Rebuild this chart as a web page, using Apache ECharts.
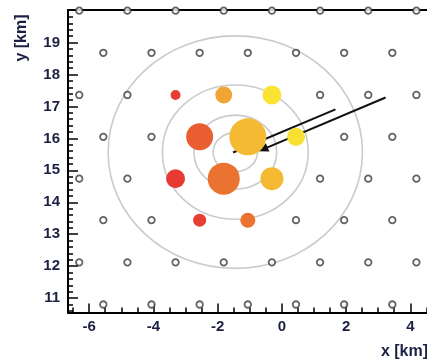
<!DOCTYPE html>
<html>
<head>
<meta charset="utf-8">
<script src="https://cdn.jsdelivr.net/npm/echarts@6/dist/echarts.min.js"></script>
<style>
html,body{margin:0;padding:0;background:#fff;}
#chart{width:427px;height:362px;}
</style>
</head>
<body>
<div id="chart"></div>
<script>
// ---- data ----
// detector grid rows (km)
const detRowY = [20.0, 18.68, 17.36, 16.05, 14.74, 13.44, 12.12, 10.8];
const detRowX = [
  [-6.31, -4.81, -3.31, -1.81, -0.31, 1.19, 2.69, 4.19],
  [-5.56, -4.06, -2.56, -1.06, 0.44, 1.94, 3.44],
  [-6.31, -4.81, 1.19, 2.69, 4.19],
  [-5.56, -4.06, 1.94, 3.44],
  [-6.31, -4.81, 1.19, 2.69, 4.19],
  [-5.56, -4.06, 0.44, 1.94, 3.44],
  [-6.31, -4.81, -3.31, -1.81, -0.31, 1.19, 2.69, 4.19],
  [-5.56, -4.06, -2.56, -1.06, 0.44, 1.94, 3.44]
];
// triggered stations
const stX      = [-3.31, -1.81, -0.31, -2.56, -1.06, 0.44, -3.31, -1.81, -0.31, -2.56, -1.06];
const stY      = [17.36, 17.36, 17.36, 16.05, 16.05, 16.05, 14.74, 14.74, 14.74, 13.44, 13.44];
const stSignal = [11, 32, 40, 81, 152, 36, 40, 114, 59, 19, 25];
const stTime   = [0.02, 0.64, 0.98, 0.25, 0.75, 0.95, 0.0, 0.38, 0.75, 0.04, 0.38];
// core-distance ellipses
const coreX = -1.45, coreY = 15.57;
const ringRx = [0.69, 1.29, 2.27, 3.96];
const ringRy = [0.61, 1.16, 2.10, 3.64];
// arrows
const arrowStart = [[-1.52, 15.56], [3.23, 17.28]];
const arrowEnd   = [[1.67, 16.91], [-0.73, 15.60]];
const arrowHead  = [0, 1];
// ticks
const xMajor = [-6, -4, -2, 0, 2, 4];
const yMajor = [11, 12, 13, 14, 15, 16, 17, 18, 19];
const xMinor = [-6.5, -5.5, -5, -4.5, -3.5, -3, -2.5, -1.5, -1, -0.5, 0.5, 1, 1.5, 2.5, 3, 3.5, 4.5];
const yMinor = [];
for (let i = 53; i <= 100; i++) { if (i % 5 !== 0) yMinor.push(i / 5); }

// ---- build ----
const detData = [];
detRowY.forEach((y, r) => detRowX[r].forEach(x => detData.push([x, y])));
const stData = stX.map((x, i) => [x, stY[i], stSignal[i], stTime[i]]);
const ringData = ringRx.map((rx, i) => [coreX, coreY, rx, ringRy[i]]);
const arrowData = arrowStart.map((s, i) => [s[0], s[1], arrowEnd[i][0], arrowEnd[i][1], arrowHead[i]]);

const XMIN = -6.66, XMAX = 4.52, YMIN = 10.55, YMAX = 20.02;
const labelColor = '#1b2142';
const grid = {left: 68, right: 0, top: 10, bottom: 49.5};
const font = 'Liberation Sans, Arial, sans-serif';

const chart = echarts.init(document.getElementById('chart'), null, {renderer: 'canvas'});
chart.setOption({
  animation: false,
  backgroundColor: '#fff',
  grid: [Object.assign({}, grid), Object.assign({}, grid)],
  xAxis: [
    {
      gridIndex: 0, type: 'value', min: XMIN, max: XMAX, position: 'bottom',
      axisLine: {show: true, onZero: false, lineStyle: {color: '#000', width: 2}},
      axisTick: {show: true, inside: true, length: 9, customValues: xMajor, lineStyle: {color: '#000', width: 1.5}},
      axisLabel: {show: true, customValues: xMajor, margin: 7, color: labelColor, fontSize: 15, fontWeight: 'bold', fontFamily: font},
      splitLine: {show: false}
    },
    {
      gridIndex: 1, type: 'value', min: XMIN, max: XMAX, position: 'bottom',
      axisLine: {show: false, onZero: false},
      axisTick: {show: true, inside: true, length: 5, customValues: xMinor, lineStyle: {color: '#000', width: 1.5}},
      axisLabel: {show: false},
      splitLine: {show: false}
    },
    {
      gridIndex: 1, type: 'value', min: XMIN, max: XMAX, position: 'top',
      axisLine: {show: true, onZero: false, lineStyle: {color: '#000', width: 2}},
      axisTick: {show: false},
      axisLabel: {show: false},
      splitLine: {show: false}
    }
  ],
  yAxis: [
    {
      gridIndex: 0, type: 'value', min: YMIN, max: YMAX, position: 'left',
      axisLine: {show: true, onZero: false, lineStyle: {color: '#000', width: 2}},
      axisTick: {show: true, inside: true, length: 10, customValues: yMajor, lineStyle: {color: '#000', width: 1.5}},
      axisLabel: {show: true, customValues: yMajor, margin: 8, color: labelColor, fontSize: 15, fontWeight: 'bold', fontFamily: font},
      splitLine: {show: false}
    },
    {
      gridIndex: 1, type: 'value', min: YMIN, max: YMAX, position: 'left',
      axisLine: {show: false, onZero: false},
      axisTick: {show: true, inside: true, length: 5, customValues: yMinor, lineStyle: {color: '#000', width: 1.5}},
      axisLabel: {show: false},
      splitLine: {show: false}
    }
  ],
  visualMap: {
    type: 'continuous', show: false, seriesIndex: 2, dimension: 3, min: 0, max: 1,
    inRange: {color: ['#e63a32', '#ea6a30', '#f3aa34', '#f9e833']}
  },
  graphic: [
    {type: 'text', x: 428, y: 352, silent: true,
     style: {text: 'x [km]', textAlign: 'right', textVerticalAlign: 'middle', fill: labelColor, font: 'bold 16px "Liberation Sans", Arial, sans-serif'}},
    {type: 'text', x: 22, y: 38, rotation: Math.PI / 2, silent: true,
     style: {text: 'y [km]', textAlign: 'center', textVerticalAlign: 'middle', fill: labelColor, font: 'bold 16px "Liberation Sans", Arial, sans-serif'}}
  ],
  series: [
    {
      type: 'custom', xAxisIndex: 0, yAxisIndex: 0, silent: true, clip: false,
      encode: {x: 0, y: 1},
      data: ringData,
      renderItem: function (params, api) {
        const c = api.coord([api.value(0), api.value(1)]);
        const s = api.size([api.value(2), api.value(3)]);
        return {type: 'ellipse', shape: {cx: c[0], cy: c[1], rx: s[0], ry: s[1]},
                style: {fill: 'none', stroke: '#cbcbcb', lineWidth: 1.6}};
      }
    },
    {
      type: 'scatter', xAxisIndex: 0, yAxisIndex: 0, silent: true, clip: false,
      symbol: 'circle', symbolSize: 6.5,
      itemStyle: {color: '#fff', borderColor: '#3c3c3c', borderWidth: 1.8},
      data: detData
    },
    {
      type: 'scatter', xAxisIndex: 0, yAxisIndex: 0, silent: true, clip: false,
      symbol: 'circle',
      symbolSize: function (v) { return 3 * Math.sqrt(v[2]); },
      itemStyle: {opacity: 1},
      data: stData
    },
    {
      type: 'custom', xAxisIndex: 0, yAxisIndex: 0, silent: true, clip: false,
      encode: {x: [0, 2], y: [1, 3]},
      data: arrowData,
      renderItem: function (params, api) {
        const p1 = api.coord([api.value(0), api.value(1)]);
        const p2 = api.coord([api.value(2), api.value(3)]);
        const head = api.value(4);
        const children = [];
        let ex = p2[0], ey = p2[1];
        if (head) {
          const dx = p2[0] - p1[0], dy = p2[1] - p1[1];
          const L = Math.hypot(dx, dy), ux = dx / L, uy = dy / L;
          const hl = 10, hw = 4.5;
          const bx = p2[0] - ux * hl, by = p2[1] - uy * hl;
          ex = bx + ux * 2; ey = by + uy * 2;
          children.push({type: 'polygon',
            shape: {points: [[p2[0], p2[1]], [bx - uy * hw, by + ux * hw], [bx + uy * hw, by - ux * hw]]},
            style: {fill: '#111'}});
        }
        children.unshift({type: 'line', shape: {x1: p1[0], y1: p1[1], x2: ex, y2: ey},
          style: {stroke: '#111', lineWidth: 2}});
        return {type: 'group', children: children};
      }
    }
  ]
});
</script>
</body>
</html>
